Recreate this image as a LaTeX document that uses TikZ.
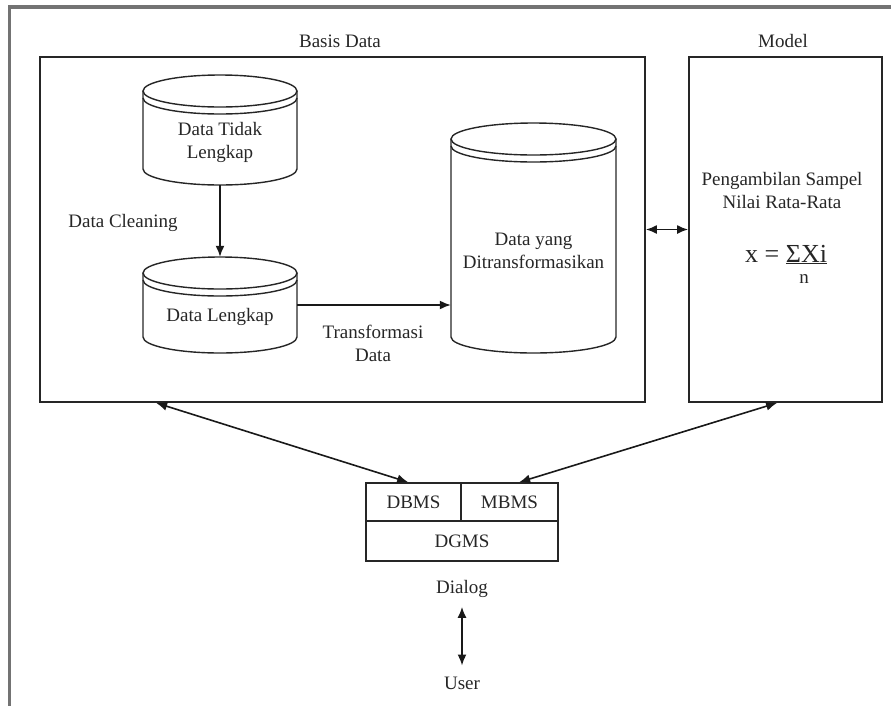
\documentclass[tikz,border=0pt]{standalone}
\usepackage{fontspec}
\setmainfont{Liberation Serif}
\usetikzlibrary{arrows.meta}
\newcommand\dbcyl[5]{%
  \draw[cylline] (#2,{#4+16}) -- (#2,{#5-16}) arc[start angle=180,end angle=0,x radius={(#3-#2)/2},y radius=16] -- (#3,{#4+16});
  \draw[cylline] ({(#2+#3)/2},{#4+16}) ellipse[x radius={(#3-#2)/2}, y radius=16];
  \draw[cylline] (#2,{#4+23}) arc[start angle=180,end angle=0,x radius={(#3-#2)/2},y radius=16];
  \node[inner sep=0,minimum width={(#3-#2)*1pt},minimum height={(#5-#4)*1pt}] (#1) at ({(#2+#3)/2},{(#4+#5)/2}) {};
}
\begin{document}
\begin{tikzpicture}[x=1pt,y=-1pt,
  lbl/.style={font=\fontsize{19}{23}\selectfont, text=black!85, inner sep=0, align=center},
  bigbox/.style={draw=black!85, line width=1.8pt, inner sep=0},
  cellbox/.style={draw=black!85, line width=1.6pt, inner sep=0, font=\fontsize{19}{23}\selectfont, text=black!85},
  cylline/.style={draw=black!85, line width=1.4pt},
  arr/.style={-{Latex[length=11pt,width=9pt]}, line width=1.6pt, draw=black!90},
  dbl/.style={{Latex[length=11pt,width=9pt]}-{Latex[length=11pt,width=9pt]}, line width=1.6pt, draw=black!90},
  frame/.style={draw=black!55, line width=3.5pt}
]
\useasboundingbox (0,0) rectangle (891,705);
% outer frame (open to the right and bottom)
\draw[frame] (9.5,710) -- (9.5,7) -- (900,7);

% titles
\node[lbl] (tbd) at (340,41) {Basis Data};
\node[lbl] (tmodel) at (783,41) {Model};

% main boxes
\node[bigbox, minimum width=605pt, minimum height=345pt] (bd) at (342.5,229.5) {};
\node[bigbox, minimum width=193pt, minimum height=345pt] (model) at (785.5,229.5) {};

% cylinders
\dbcyl{c1}{143}{297}{75}{185}
\dbcyl{c2}{143}{297}{257}{353}
\dbcyl{c3}{451}{616}{123}{353}
\node[lbl] (c1t) at (220,142) {Data Tidak\\Lengkap};
\node[lbl] (c2t) at (220,317) {Data Lengkap};
\node[lbl] (c3t) at (533.5,251) {Data yang\\Ditransformasikan};

\node[lbl] (clean) at (123,223) {Data Cleaning};
\node[lbl] (trans) at (373,343) {Transformasi\\Data};

\draw[arr] (c1.south) -- (c2.north);
\draw[arr] (c2.east) -- (c2.east -| c3.west);

% model content
\node[lbl] (mtext) at (782,190) {Pengambilan Sampel\\Nilai Rata-Rata};
\node[anchor=base west, font=\fontsize{26}{30}\selectfont, text=black!85, inner sep=0] (frm) at (745,262) {x = \underline{ΣXi}};
\node[lbl, anchor=base] (nn) at (804,283) {n};

\draw[dbl] (bd.east) -- (model.west);

% DBMS / MBMS / DGMS
\node[cellbox, minimum width=95pt, minimum height=38pt] (dbms) at (413.5,502) {DBMS};
\node[cellbox, minimum width=97pt, minimum height=38pt] (mbms) at (509.5,502) {MBMS};
\node[cellbox, minimum width=192pt, minimum height=40pt] (dgms) at (462,541) {DGMS};

\draw[dbl] ([xshift=117pt]bd.south west) -- ([xshift=43pt]dbms.north west);
\draw[dbl] ([xshift=59pt]mbms.north west) -- ([xshift=89pt]model.south west);

\node[lbl] (dialog) at (462,589) {Dialog};
\node[lbl] (user) at (462,683) {User};
\draw[dbl, shorten <=9pt, shorten >=11pt] (dialog.south) -- (user.north);
\end{tikzpicture}
\end{document}
